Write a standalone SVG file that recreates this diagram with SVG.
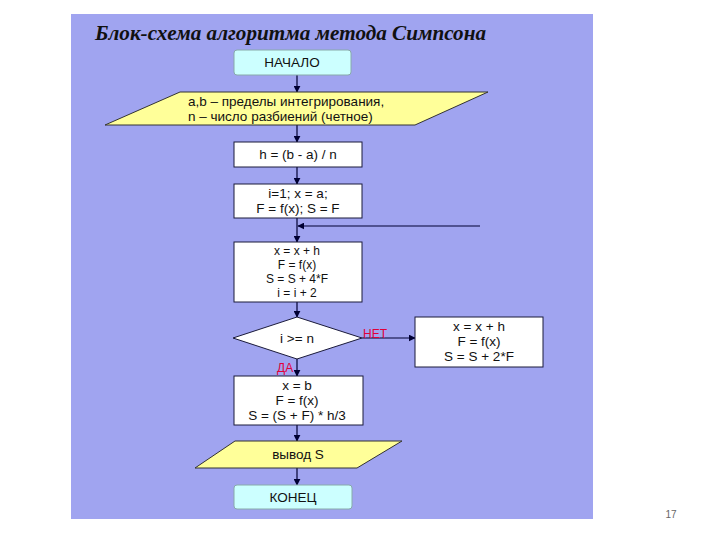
<svg xmlns="http://www.w3.org/2000/svg" width="720" height="540" viewBox="0 0 720 540">
<style>
.t{font-family:"Liberation Sans",Arial,sans-serif;font-size:13.5px;fill:#111;text-anchor:middle}
.s{font-size:12px}
.box{fill:#ffffff;stroke:#1a1a3a;stroke-width:1}
.term{fill:#ccffff;stroke:#8aa;stroke-width:1}
.io{fill:#ffff99;stroke:#333;stroke-width:1}
.ln{stroke:#000033;stroke-width:1.2;fill:none}
.lbl{font-family:"Liberation Sans",Arial,sans-serif;font-size:12px;fill:#e0003a}
</style>
<defs>
<marker id="ah" viewBox="0 0 10 10" refX="9" refY="5" markerWidth="7" markerHeight="7" orient="auto" markerUnits="userSpaceOnUse">
<path d="M0,0 L10,5 L0,10 z" fill="#000033"/>
</marker>
</defs>
<rect width="720" height="540" fill="#ffffff"/>
<rect x="71" y="14" width="522" height="505" fill="#a0a4f0"/>
<text x="95" y="40" font-family="Liberation Serif,serif" font-size="20" font-weight="bold" font-style="italic" fill="#111" textLength="391" lengthAdjust="spacingAndGlyphs">Блок-схема алгоритма метода Симпсона</text>
<g id="connectors">
<line class="ln" x1="297" y1="75" x2="297" y2="92" marker-end="url(#ah)"/>
<line class="ln" x1="297" y1="125" x2="297" y2="142" marker-end="url(#ah)"/>
<line class="ln" x1="297" y1="167" x2="297" y2="184" marker-end="url(#ah)"/>
<line class="ln" x1="297" y1="218" x2="297" y2="242" marker-end="url(#ah)"/>
<line class="ln" x1="480" y1="226" x2="298" y2="226" marker-end="url(#ah)"/>
<line class="ln" x1="297" y1="302" x2="297" y2="317" marker-end="url(#ah)"/>
<line class="ln" x1="362" y1="338" x2="415" y2="338" marker-end="url(#ah)"/>
<line class="ln" x1="297" y1="359" x2="297" y2="376" marker-end="url(#ah)"/>
<line class="ln" x1="297" y1="425" x2="297" y2="441" marker-end="url(#ah)"/>
<line class="ln" x1="297" y1="468" x2="297" y2="485" marker-end="url(#ah)"/>
</g>
<g id="start">
<rect class="term" x="234" y="50" width="117" height="25" rx="3"/>
<text class="t" x="292" y="67">НАЧАЛО</text>
</g>
<g id="input">
<polygon class="io" points="180,92 488,92 415,125 105,125"/>
<text class="t" x="188" y="106" style="text-anchor:start">a,b – пределы интегрирования,</text>
<text class="t" x="188" y="121" style="text-anchor:start">n – число разбиений (четное)</text>
</g>
<g id="step-h">
<rect class="box" x="234" y="142" width="128" height="25"/>
<text class="t" x="298" y="159">h = (b - a) / n</text>
</g>
<g id="init">
<rect class="box" x="234" y="184" width="128" height="34"/>
<text class="t" x="298" y="198">i=1; x = a;</text>
<text class="t" x="298" y="213">F = f(x); S = F</text>
</g>
<g id="loop-body">
<rect class="box" x="234" y="242" width="128" height="60"/>
<text class="t s" x="297" y="255">x = x + h</text>
<text class="t s" x="297" y="269">F = f(x)</text>
<text class="t s" x="297" y="283">S = S + 4*F</text>
<text class="t s" x="297" y="297">i = i + 2</text>
</g>
<g id="cond">
<polygon class="box" points="297,317 362,338 297,359 233,338"/>
<text class="t" x="297" y="343">i &gt;= n</text>
<text class="lbl" x="363" y="338">НЕТ</text>
<text class="lbl" x="277" y="372">ДА</text>
</g>
<g id="odd-step">
<rect class="box" x="415" y="317" width="128" height="50"/>
<text class="t" x="479" y="331">x = x + h</text>
<text class="t" x="479" y="346">F = f(x)</text>
<text class="t" x="479" y="361">S = S + 2*F</text>
</g>
<g id="final">
<rect class="box" x="234" y="376" width="129" height="49"/>
<text class="t" x="297" y="390">x = b</text>
<text class="t" x="297" y="405">F = f(x)</text>
<text class="t" x="297" y="420">S = (S + F) * h/3</text>
</g>
<g id="output">
<polygon class="io" points="235,441 402,441 357,468 195,468"/>
<text class="t" x="298" y="459">вывод S</text>
</g>
<g id="end">
<rect class="term" x="234" y="485" width="118" height="24" rx="3"/>
<text class="t" x="293" y="502">КОНЕЦ</text>
</g>
<text x="671" y="518" font-family="Liberation Sans,Arial,sans-serif" font-size="10" fill="#666" text-anchor="middle">17</text>
</svg>
